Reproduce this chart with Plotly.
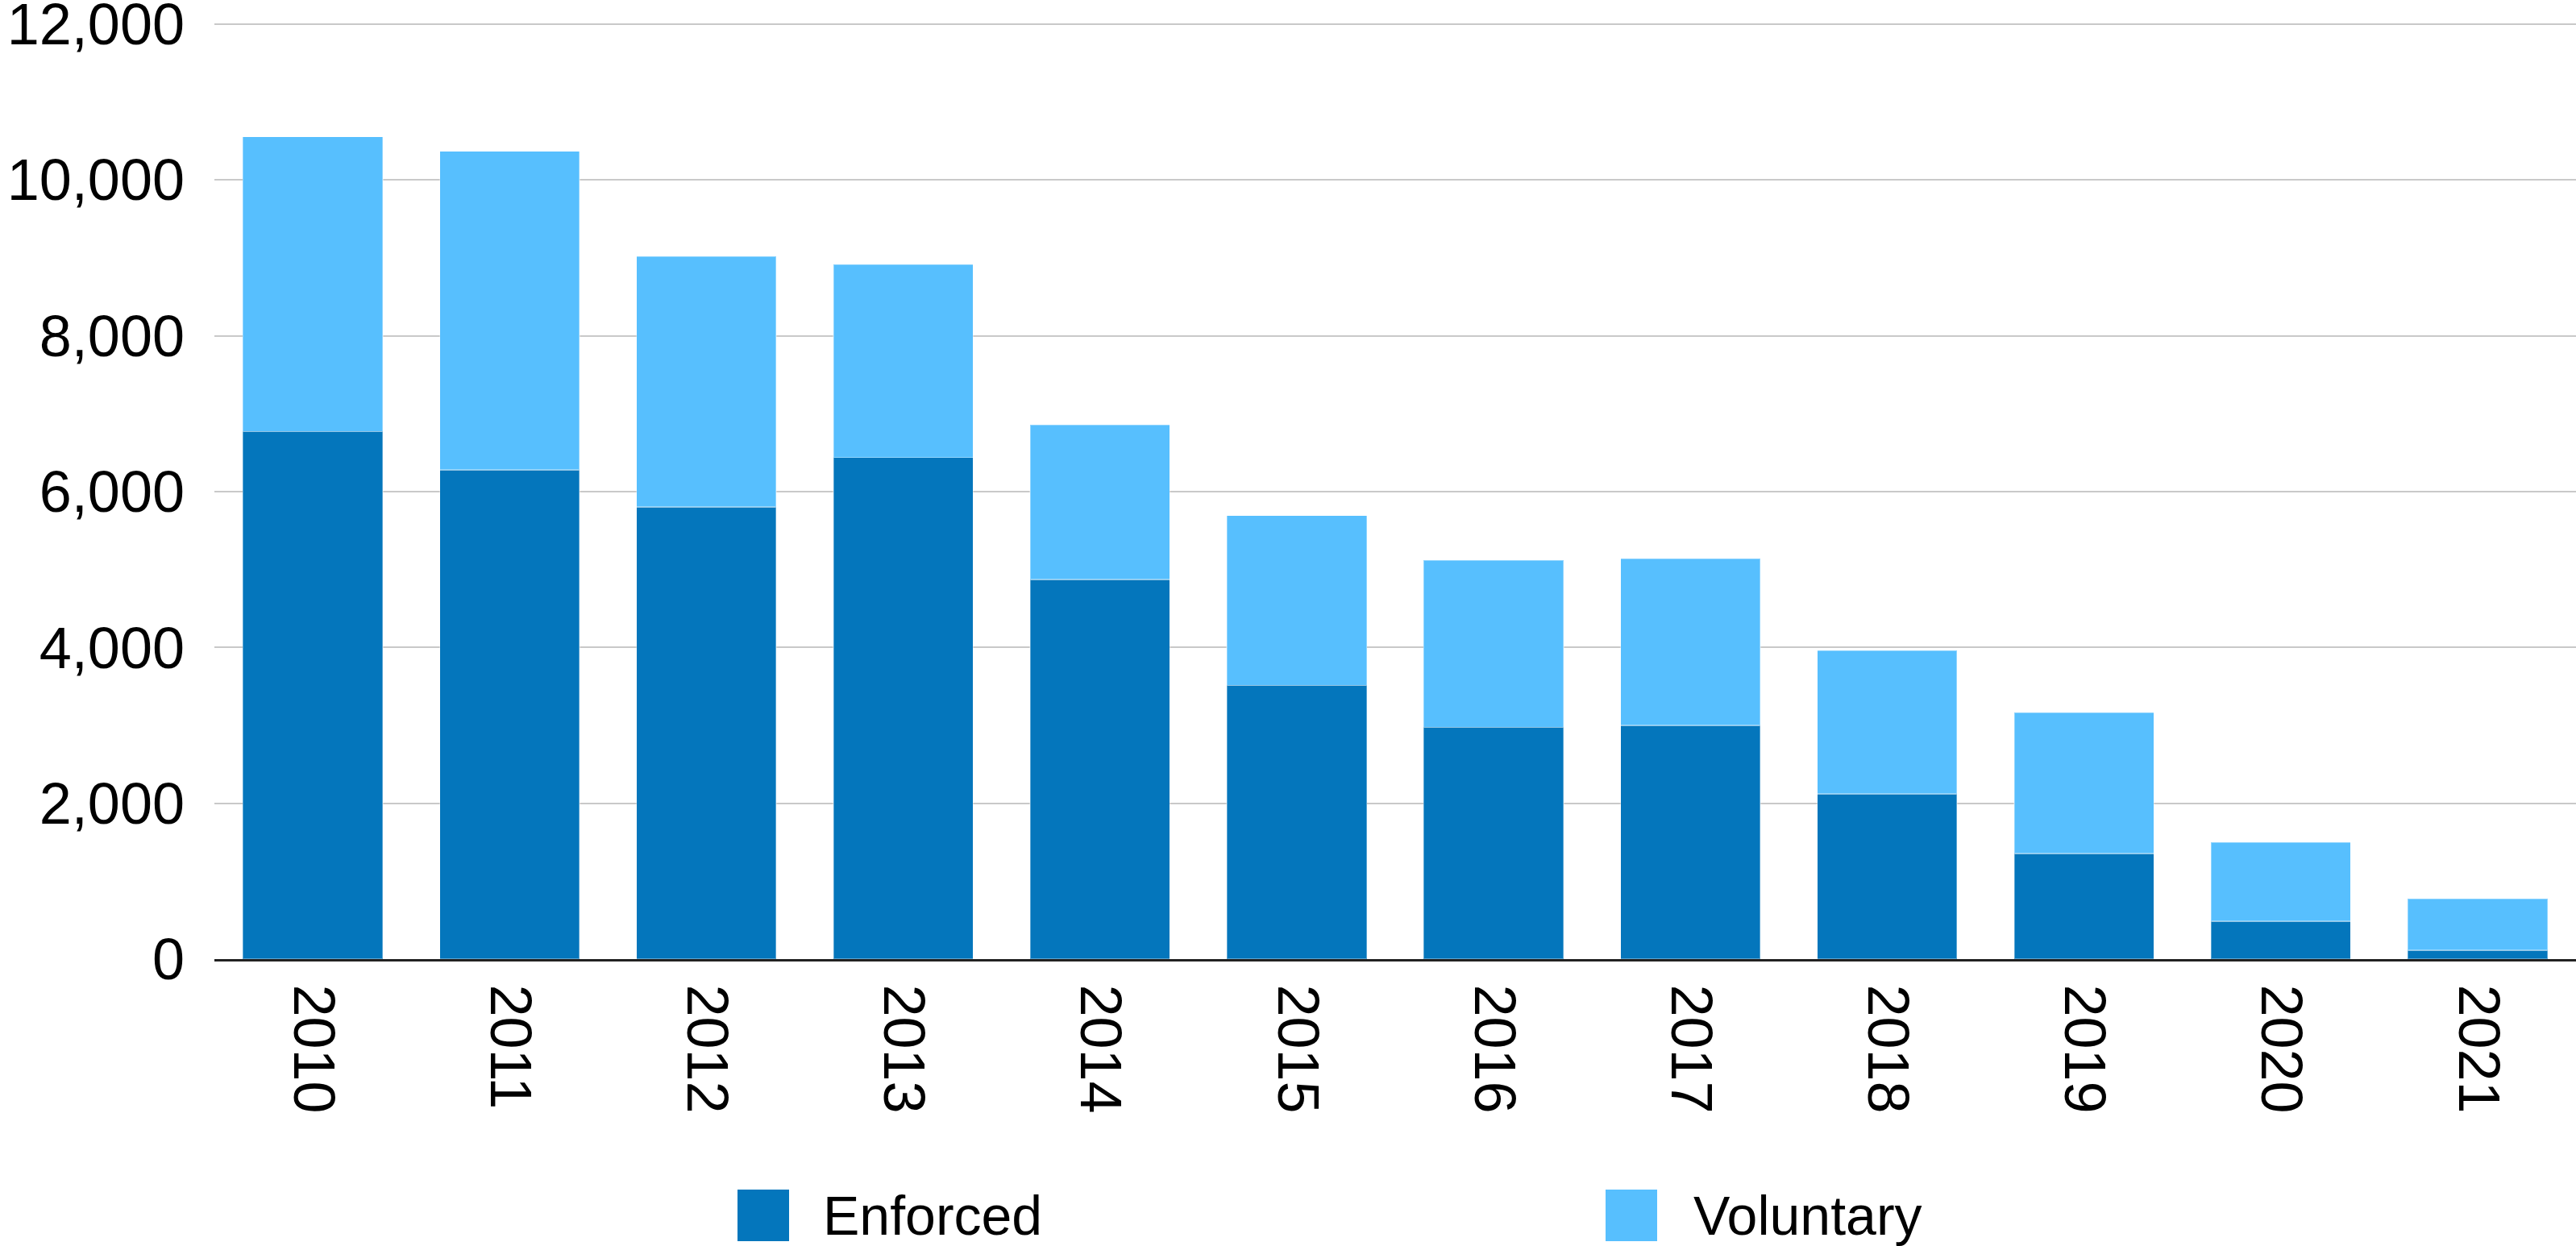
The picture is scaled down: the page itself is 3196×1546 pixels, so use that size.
import plotly.graph_objects as go

years = ["2010", "2011", "2012", "2013", "2014", "2015", "2016", "2017", "2018", "2019", "2020", "2021"]
enforced = [6772, 6280, 5801, 6437, 4872, 3512, 2976, 2998, 2118, 1353, 485, 115]
totals = [10555, 10368, 9022, 8918, 6856, 5693, 5120, 5138, 3960, 3161, 1499, 776]
voluntary = [t - e for t, e in zip(totals, enforced)]

y_ticks = [0, 2000, 4000, 6000, 8000, 10000, 12000]
series_names = ["Enforced", "Voluntary"]
colors = ["#0476BC", "#57BFFE"]

Y_MAX = 12030  # small headroom so the top gridline is not clipped at the edge

# plot area in page pixels (body margin removed via post_script)
PL, PR, PT, PB = 266, 3196, 27, 1190
W, H = 3196, 1546
ML, MR, MT, MB = PL, W - PR, PT, H - PB
PW, PH = PR - PL, PB - PT
FONT = "Liberation Sans, Arial, Helvetica, sans-serif"
FS = 72
LFS = 68

fig = go.Figure()
for name, vals, col in zip(series_names, [enforced, voluntary], colors):
    fig.add_trace(go.Bar(
        x=years, y=vals, name=name,
        marker=dict(color=col, line=dict(color="rgba(255,255,255,0.35)", width=1.5)),
        showlegend=False,
    ))

fig.update_layout(
    barmode="stack",
    bargap=0.29,
    width=W, height=H,
    margin=dict(l=ML, r=MR, t=MT, b=MB, pad=0, autoexpand=False),
    paper_bgcolor="white",
    plot_bgcolor="white",
    font=dict(family=FONT, size=FS, color="black"),
)
fig.update_yaxes(
    range=[0, Y_MAX],
    tickvals=y_ticks,
    tickformat=",",
    showgrid=True, gridcolor="#C9C9C9", gridwidth=2,
    zeroline=False,
    showline=False,
    ticks="",
    ticklabelstandoff=36,
    ticklabeloverflow="allow",
    automargin=False,
    tickfont=dict(family=FONT, size=FS, color="black"),
)
fig.update_xaxes(
    type="category",
    tickangle=90,
    showline=True, linecolor="#222222", linewidth=3,
    ticks="",
    ticklabelstandoff=14,
    automargin=False,
    tickfont=dict(family=FONT, size=FS, color="black"),
)

# Legend drawn manually (large swatches), positions in page pixels
def px_x(p):
    return (p - PL) / PW

def px_y(p):
    return (PB - p) / PH

legend_items = [("Enforced", 915, 1019), ("Voluntary", 1992, 2099)]
for (label, sx, tx), col in zip(legend_items, colors):
    fig.add_shape(type="rect", xref="paper", yref="paper",
                  x0=px_x(sx), x1=px_x(sx + 64), y0=px_y(1540), y1=px_y(1476),
                  fillcolor=col, line=dict(width=0))
    fig.add_annotation(text=label, xref="paper", yref="paper",
                       x=px_x(tx), y=px_y(1508), xanchor="left", yanchor="middle",
                       showarrow=False, font=dict(family=FONT, size=LFS, color="black"))

fig.write_html("out.html",
               config={"displayModeBar": False},
               post_script="document.body.style.margin='0px';document.body.style.overflow='hidden';")
